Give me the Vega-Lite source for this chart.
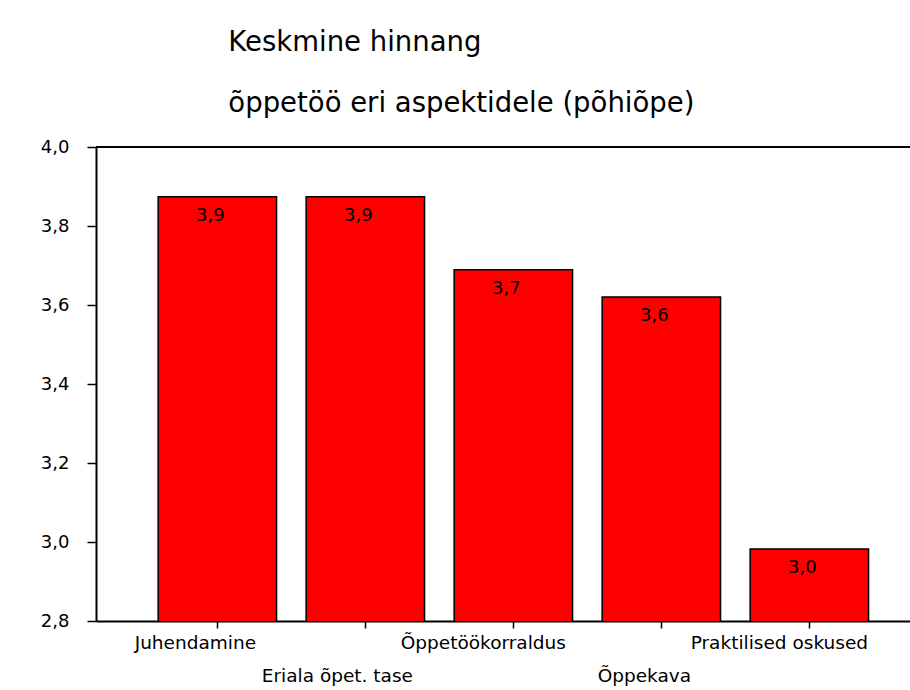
{
  "$schema": "https://vega.github.io/schema/vega-lite/v6.json",
  "width": 814,
  "height": 474,
  "autosize": {"type": "none"},
  "padding": {"left": 96, "top": 147, "right": 0, "bottom": 69},
  "background": "white",
  "title": {
    "text": ["Keskmine hinnang", "õppetöö eri aspektidele (põhiõpe)"],
    "anchor": "start",
    "dx": 188,
    "font": "DejaVu Sans",
    "fontSize": 27.5,
    "fontWeight": "normal",
    "color": "black",
    "lineHeight": 61,
    "offset": 21
  },
  "data": {
    "values": [
      {"aspekt": "Juhendamine", "hinnang": 3.874},
      {"aspekt": "Eriala õpet. tase", "hinnang": 3.874},
      {"aspekt": "Õppetöökorraldus", "hinnang": 3.689},
      {"aspekt": "Õppekava", "hinnang": 3.62},
      {"aspekt": "Praktilised oskused", "hinnang": 2.982}
    ]
  },
  "encoding": {
    "x": {
      "field": "aspekt",
      "type": "nominal",
      "sort": null,
      "title": null,
      "scale": {"paddingInner": 0.2, "paddingOuter": 0.35, "align": 0.6},
      "axis": {
        "labelAngle": 0,
        "labelFont": "DejaVu Sans",
        "labelFontSize": 18.5,
        "labelColor": "black",
        "labelPadding": 5,
        "labelLineHeight": 33,
        "labelBaseline": "top",
        "labelOffset": {
          "condition": [
            {"test": "datum.value == 'Juhendamine'", "value": -22},
            {"test": "datum.value == 'Eriala õpet. tase'", "value": -28},
            {"test": "datum.value == 'Õppekava'", "value": -17}
          ],
          "value": -30
        },
        "labelExpr": "datum.value == 'Eriala õpet. tase' || datum.value == 'Õppekava' ? ['', datum.value] : datum.value",
        "tickSize": 7,
        "tickColor": "black",
        "tickWidth": 1.5,
        "domainColor": "black",
        "domainWidth": 2,
        "labelOverlap": false,
        "labelLimit": 0
      }
    },
    "y": {
      "field": "hinnang",
      "type": "quantitative",
      "title": null,
      "scale": {"domain": [2.8, 4.0], "nice": false, "zero": false},
      "axis": {
        "values": [2.8, 3.0, 3.2, 3.4, 3.6, 3.8, 4.0],
        "format": ".1f",
        "grid": false,
        "labelFont": "DejaVu Sans",
        "labelFontSize": 18,
        "labelColor": "black",
        "labelPadding": 18,
        "tickSize": 9,
        "tickColor": "black",
        "tickWidth": 1.5,
        "domainColor": "black",
        "domainWidth": 2
      }
    }
  },
  "layer": [
    {
      "mark": {"type": "bar", "color": "#FF0000", "stroke": "black", "strokeWidth": 1.5, "clip": true}
    },
    {
      "mark": {"type": "text", "font": "DejaVu Sans", "fontSize": 18, "color": "black", "baseline": "alphabetic", "dy": 24, "dx": -7},
      "encoding": {
        "text": {"field": "hinnang", "type": "quantitative", "format": ".1f"}
      }
    },
    {
      "mark": {"type": "rule", "color": "black", "strokeWidth": 2},
      "encoding": {"y": {"datum": 4.0}, "x": null}
    }
  ],
  "config": {
    "view": {"stroke": null},
    "locale": {
      "number": {"decimal": ",", "thousands": " ", "grouping": [3], "currency": ["", " €"]}
    }
  }
}
